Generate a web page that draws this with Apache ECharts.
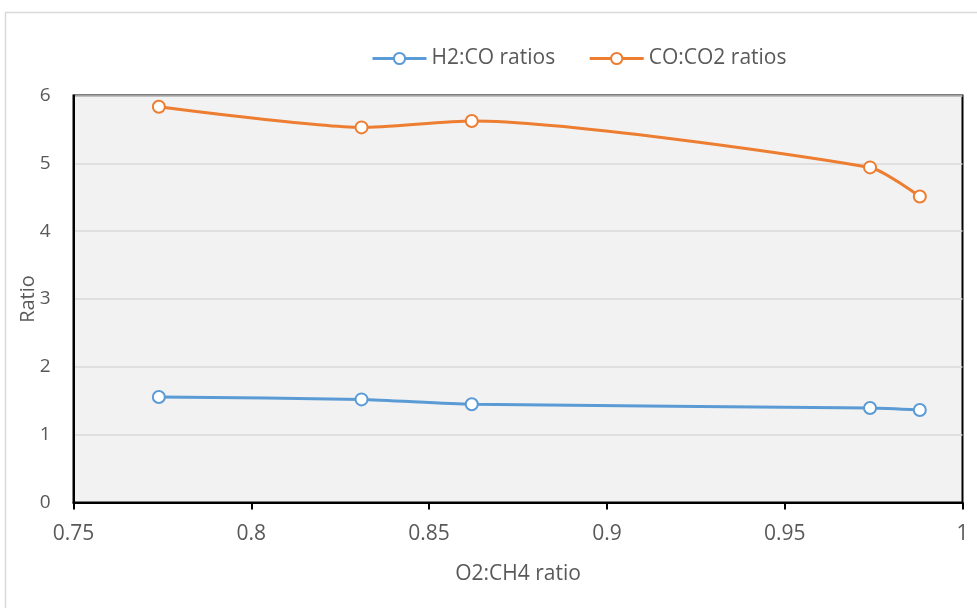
<!DOCTYPE html>
<html>
<head>
<meta charset="utf-8">
<script src="https://cdn.jsdelivr.net/npm/echarts@6/dist/echarts.min.js"></script>
<style>
  html, body { margin: 0; padding: 0; background: #fff; }
  #chart { width: 977px; height: 608px; }
</style>
</head>
<body>
<div id="chart"></div>
<script>
// O2:CH4 feed ratio (x) and the resulting product gas ratios
const o2ch4 = [0.774, 0.831, 0.862, 0.974, 0.988];
const h2coRatios = [1.555, 1.52, 1.448, 1.393, 1.364];
const coco2Ratios = [5.835, 5.53, 5.624, 4.94, 4.51];
const seriesNames = ['H2:CO ratios', 'CO:CO2 ratios'];
const seriesColors = ['#5B9BD5', '#ED7D31'];

const pairs = (xs, ys) => xs.map((x, i) => [x, ys[i]]);
const font = '"Open Sans", "Liberation Sans", sans-serif';
const textGrey = '#595959';

const chart = echarts.init(document.getElementById('chart'));

function makeSeries(name, color, data) {
  return {
    name: name,
    type: 'line',
    data: data,
    smooth: 0.22,
    symbol: 'circle',
    symbolSize: 12,
    itemStyle: { color: '#fff', borderColor: color, borderWidth: 2 },
    lineStyle: { color: color, width: 3 },
    emphasis: { disabled: true }
  };
}

chart.setOption({
  animation: false,
  backgroundColor: '#fff',
  textStyle: { fontFamily: font },
  graphic: [{
    type: 'rect',
    shape: { x: 5.5, y: 12.5, width: 990, height: 620 },
    style: { fill: 'none', stroke: '#d9d9d9', lineWidth: 1.5 },
    z: -10
  }],
  legend: {
    top: 43,
    left: 366,
    itemGap: 33,
    itemWidth: 54,
    itemHeight: 14,
    lineStyle: { width: 3 },
    textStyle: { color: textGrey, fontSize: 21, fontFamily: font },
    data: seriesNames
  },
  grid: {
    left: 73.5,
    right: 14.5,
    top: 95.5,
    bottom: 105.5,
    show: true,
    backgroundColor: '#f2f2f2',
    borderColor: '#000',
    borderWidth: 2
  },
  xAxis: {
    type: 'value',
    min: 0.75,
    max: 1,
    interval: 0.05,
    name: 'O2:CH4 ratio',
    nameLocation: 'middle',
    nameGap: 61,
    nameTextStyle: { color: textGrey, fontSize: 21, fontFamily: font },
    axisLine: { show: true, lineStyle: { color: '#000', width: 2 } },
    axisTick: { show: true, inside: false, length: 7, lineStyle: { color: '#000', width: 2 } },
    axisLabel: {
      color: textGrey, fontSize: 21, margin: 21, fontFamily: font,
      formatter: v => String(+v.toFixed(2))
    },
    splitLine: { show: false }
  },
  yAxis: {
    type: 'value',
    min: 0,
    max: 6,
    interval: 1,
    name: 'Ratio',
    nameLocation: 'middle',
    nameGap: 35,
    nameMoveOverlap: false,
    nameRotate: 90,
    nameTextStyle: { color: textGrey, fontSize: 20, fontFamily: font },
    axisLine: { show: true, lineStyle: { color: '#000', width: 2 } },
    axisTick: { show: false },
    axisLabel: { color: textGrey, fontSize: 19, margin: 23, fontFamily: font },
    splitLine: { show: true, lineStyle: { color: '#d9d9d9', width: 1.5 } }
  },
  series: [
    makeSeries(seriesNames[0], seriesColors[0], pairs(o2ch4, h2coRatios)),
    makeSeries(seriesNames[1], seriesColors[1], pairs(o2ch4, coco2Ratios))
  ]
});
</script>
</body>
</html>
